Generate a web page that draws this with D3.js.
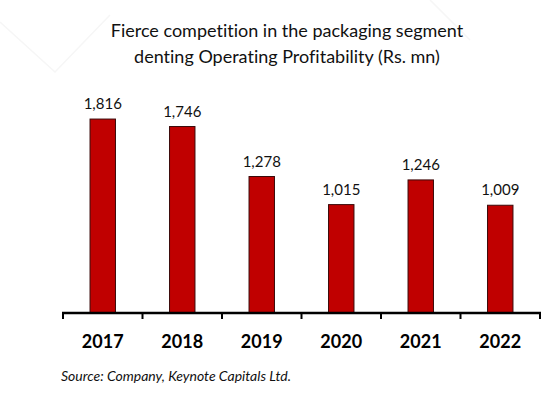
<!DOCTYPE html>
<html>
<head>
<meta charset="utf-8">
<script src="https://cdn.jsdelivr.net/npm/d3@7"></script>
<style>
  body { margin: 0; background: #fff; }
  text { font-family: Lato, "Open Sans", sans-serif; font-variant-ligatures: none; }
</style>
</head>
<body>
<svg id="chart"></svg>
<script>
const years = ['2017', '2018', '2019', '2020', '2021', '2022']
const profit = [1816, 1746, 1278, 1015, 1246, 1009]
const titleLines = ['Fierce competition in the packaging segment', 'denting Operating Profitability (Rs. mn)']
const sourceText = 'Source: Company, Keynote Capitals Ltd.'

const width = 558
const height = 399
const svg = d3.select('#chart').attr('width', width).attr('height', height)

// faint background watermark strokes
const wm = svg.append('g').attr('stroke', '#f6f6f6').attr('stroke-width', 1.5).attr('fill', 'none')
wm.append('path').attr('d', 'M0,22 L55,72 L110,15')
wm.append('path').attr('d', 'M430,0 L470,40')

const x = d3.scaleBand()
  .domain(years)
  .range([63, 540])
  .paddingInner(0.68)
  .paddingOuter(0.34)

const y = d3.scaleLinear()
  .domain([0, 2000])
  .range([313, 99.4])

// 標題
svg.append('g')
  .selectAll('text')
  .data(titleLines)
  .enter()
  .append('text')
  .attr('x', 287)
  .attr('y', (d, i) => 37 + i * 26)
  .attr('text-anchor', 'middle')
  .attr('font-size', 18)
  .attr('fill', '#111')
  .text(d => d)

// 長條
svg.append('g')
  .selectAll('rect')
  .data(profit)
  .enter()
  .append('rect')
  .attr('x', (d, i) => x(years[i]))
  .attr('y', d => y(d))
  .attr('width', x.bandwidth())
  .attr('height', d => y(0) - y(d))
  .attr('fill', '#c00000')
  .attr('stroke', '#3a0a0a')
  .attr('stroke-width', 1)

// 數值標籤
svg.append('g')
  .selectAll('text')
  .data(profit)
  .enter()
  .append('text')
  .attr('x', (d, i) => x(years[i]) + x.bandwidth() / 2)
  .attr('y', d => y(d) - 10)
  .attr('text-anchor', 'middle')
  .attr('font-size', 15)
  .attr('fill', '#111')
  .text(d => d3.format(',')(d))

// x 軸
const xEdge = d3.scaleBand().domain(years).range([63, 540])
const axis = svg.append('g').attr('transform', 'translate(0,313)')
axis.append('line')
  .attr('x1', 62).attr('x2', 541)
  .attr('stroke', '#000').attr('stroke-width', 2.5)
axis.selectAll('.tick')
  .data(years.concat(['end']))
  .enter()
  .append('line')
  .attr('x1', d => d === 'end' ? 540 : xEdge(d))
  .attr('x2', d => d === 'end' ? 540 : xEdge(d))
  .attr('y1', 0).attr('y2', 6)
  .attr('stroke', '#000').attr('stroke-width', 2)
axis.selectAll('.label')
  .data(years)
  .enter()
  .append('text')
  .attr('x', d => xEdge(d) + xEdge.bandwidth() / 2)
  .attr('y', 35)
  .attr('text-anchor', 'middle')
  .attr('font-size', 18)
  .attr('font-weight', 'bold')
  .attr('fill', '#000')
  .text(d => d)

svg.append('text')
  .attr('x', 61)
  .attr('y', 381)
  .attr('font-size', 14)
  .attr('font-style', 'italic')
  .attr('fill', '#111')
  .text(sourceText)
</script>
</body>
</html>
